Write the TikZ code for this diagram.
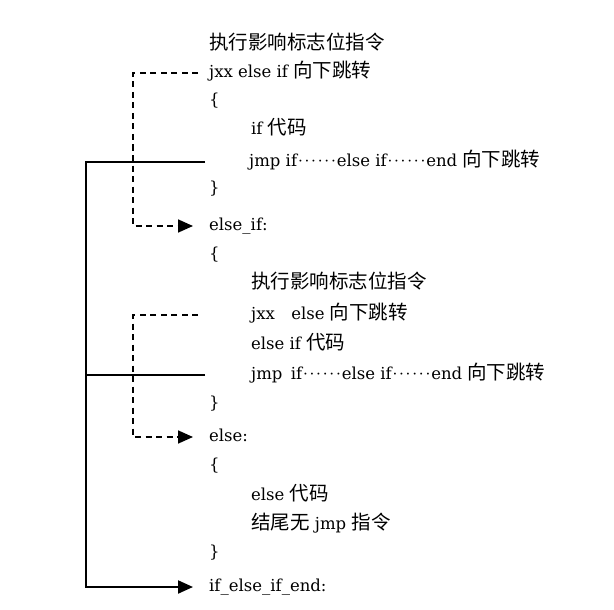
\documentclass[tikz,border=0pt]{standalone}
\usepackage{fontspec}
\setmainfont{DejaVu Serif}
\newfontfamily\cjk{Noto Sans CJK SC}
\usetikzlibrary{arrows.meta}
\newcommand{\zh}[1]{{\cjk\fontsize{19.5}{20}\selectfont #1}}
\newcommand{\dt}{\makebox[6.6pt]{\raisebox{3.3pt}{\fontsize{6.5}{6.5}\selectfont •}}}
\newcommand{\dd}{\dt\dt\dt\dt\dt\dt}
\begin{document}
\begin{tikzpicture}[x=1pt,y=-1pt,
  txt/.style={anchor=west, inner sep=0pt, text height=13pt, text depth=4pt, font=\fontsize{16.5}{20}\selectfont},
  dsh/.style={line width=1.7pt, dash pattern=on 6pt off 4.5pt},
  sld/.style={line width=2.1pt},
  tip/.style={-{Triangle[length=15pt,width=13pt]}}]
\useasboundingbox (0,0) rectangle (614,610);
\coordinate (dx) at (133,0);
\coordinate (sx) at (86,0);
\node[txt] (a1) at (209,45) {\zh{执行影响标志位指令}};
\node[txt] (a2) at (209,73) {jxx else if \zh{向下跳转}};
\node[txt] (a3) at (209,101) {\{};
\node[txt] (a4) at (251,130) {if \zh{代码}};
\node[txt] (a5) at (249,162) {jmp if\dd else if\dd end \zh{向下跳转}};
\node[txt] (a6) at (209,189) {\}};
\node[txt] (a7) at (209,226) {else\_if:};
\node[txt] (b1) at (209,255) {\{};
\node[txt] (b2) at (251,284) {\zh{执行影响标志位指令}};
\node[txt] (b3) at (251,315) {jxx\quad else \zh{向下跳转}};
\node[txt] (b4) at (251,345) {else if \zh{代码}};
\node[txt] (b5) at (251,375) {jmp\enspace if\dd else if\dd end \zh{向下跳转}};
\node[txt] (b6) at (209,404) {\}};
\node[txt] (b7) at (209,437) {else:};
\node[txt] (c1) at (209,466) {\{};
\node[txt] (c2) at (251,496) {else \zh{代码}};
\node[txt] (c3) at (251,525) {\zh{结尾无} jmp \zh{指令}};
\node[txt] (c4) at (209,553) {\}};
\node[txt] (c5) at (209,587) {if\_else\_if\_end:};
\draw[dsh,tip] ([xshift=-11pt]a2.west) -- (a2.west -| dx) |- ([xshift=-16pt]a7.west);
\draw[dsh,tip] ([xshift=-53pt]b3.west) -- (b3.west -| dx) |- ([xshift=-16pt]b7.west);
\draw[sld,tip] ([xshift=-44pt]a5.west) -- (a5.west -| sx) |- ([xshift=-16pt]c5.west);
\draw[sld] ([xshift=-46pt]b5.west) -- (b5.west -| sx);
\end{tikzpicture}
\end{document}
